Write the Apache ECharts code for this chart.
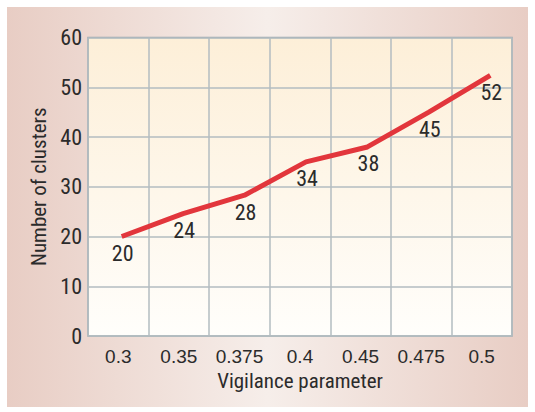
<!DOCTYPE html>
<html>
<head>
<meta charset="utf-8">
<script src="https://cdn.jsdelivr.net/npm/echarts@6/dist/echarts.min.js"></script>
<style>
  html, body { margin: 0; padding: 0; background: #fff; }
  #chart { width: 535px; height: 412px; }
</style>
</head>
<body>
<div id="chart"></div>
<script>
// 数据
let categories = ["0.3", "0.35", "0.375", "0.4", "0.45", "0.475", "0.5"];
let clusterValues = [20, 24.6, 28.3, 35, 38, 45, 52.4];
let clusterLabels = ["20", "24", "28", "34", "38", "45", "52"];
let yTicks = [0, 10, 20, 30, 40, 50, 60];

let font = '"Roboto Condensed", Roboto, sans-serif';
let fontWide = '"Liberation Sans", Arial, sans-serif';
let textColor = "#2b2b2b";
let gridColor = "#b3bdc0";

let chart = echarts.init(document.getElementById("chart"), null, { renderer: "svg" });

chart.setOption({
    backgroundColor: "#fff",
    animation: false,
    textStyle: { fontFamily: font, color: textColor },
    graphic: [{
        type: "rect",
        z: -10,
        shape: { x: 7, y: 7, width: 521, height: 400 },
        style: {
            fill: new echarts.graphic.LinearGradient(0, 0, 1, 0, [
                { offset: 0, color: "#e8cdc4" },
                { offset: 0.5, color: "#f6eeea" },
                { offset: 1, color: "#e8cdc4" }
            ])
        }
    }],
    grid: [{
        left: 88,
        top: 37.5,
        right: 23,
        bottom: 76,
        show: true,
        borderColor: "#9aa9af",
        borderWidth: 1.5,
        backgroundColor: new echarts.graphic.LinearGradient(0, 0, 0, 1, [
            { offset: 0, color: "#fdefd8" },
            { offset: 1, color: "#fffefb" }
        ])
    }, {
        // 折线在原图中略向右偏
        left: 91,
        top: 37.5,
        right: 14,
        bottom: 76
    }],
    xAxis: [{
        type: "category",
        gridIndex: 0,
        data: categories,
        boundaryGap: true,
        name: "Vigilance parameter",
        nameLocation: "middle",
        nameGap: 27,
        nameTextStyle: { fontSize: 21, fontFamily: font, color: textColor },
        axisLine: { show: false },
        axisTick: { show: false },
        axisLabel: { interval: 0, fontSize: 19, margin: 11, color: textColor, fontFamily: fontWide },
        splitLine: { show: true, interval: 0, lineStyle: { color: gridColor, width: 1.5 } }
    }, {
        type: "category",
        gridIndex: 1,
        data: categories,
        boundaryGap: true,
        show: false
    }],
    yAxis: [{
        type: "value",
        gridIndex: 0,
        min: yTicks[0],
        max: yTicks[yTicks.length - 1],
        interval: 10,
        name: "Number of clusters",
        nameLocation: "middle",
        nameGap: 38,
        nameTextStyle: { fontSize: 21, fontFamily: font, color: textColor },
        axisLine: { show: false },
        axisTick: { show: false },
        axisLabel: { fontSize: 22, margin: 6, color: textColor, fontFamily: font },
        splitLine: { show: true, lineStyle: { color: gridColor, width: 1.5 } }
    }, {
        type: "value",
        gridIndex: 1,
        min: yTicks[0],
        max: yTicks[yTicks.length - 1],
        interval: 10,
        show: false,
        splitLine: { show: false }
    }],
    series: [{
        type: "line",
        xAxisIndex: 1,
        yAxisIndex: 1,
        data: clusterValues,
        symbol: "circle",
        symbolSize: 2,
        showAllSymbol: true,
        itemStyle: { color: "rgba(0,0,0,0)" },
        lineStyle: { color: "#e2363c", width: 5 },
        label: {
            show: true,
            position: "bottom",
            distance: 5,
            offset: [1, 0],
            fontSize: 22,
            color: textColor,
            fontFamily: font,
            formatter: (p) => clusterLabels[p.dataIndex]
        }
    }]
});
</script>
</body>
</html>
